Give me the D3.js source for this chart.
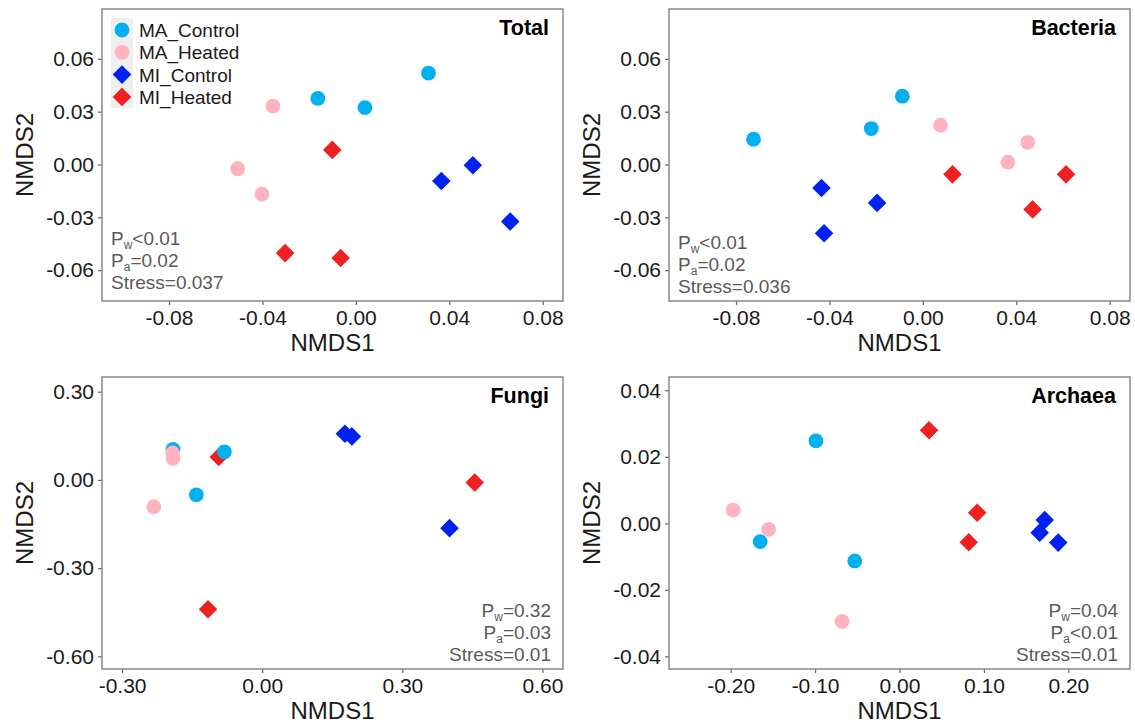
<!DOCTYPE html>
<html>
<head>
<meta charset="utf-8">
<script src="https://cdnjs.cloudflare.com/ajax/libs/d3/7.8.5/d3.min.js"></script>
<style>
  body { margin: 0; background: #fff; }
  text { font-family: "Liberation Sans", Arial, sans-serif; }
</style>
</head>
<body>
<div id="container"></div>
<script>
// groups, in legend order
var groups = ["MA_Control", "MA_Heated", "MI_Control", "MI_Heated"];
var groupColors = ["#00B0F0", "#FFB3C1", "#0022F0", "#EE2020"];
var groupShapes = ["circle", "circle", "diamond", "diamond"];

// group of each sample (same order in every panel)
var sampleGroup = ["MA_Control", "MA_Control", "MA_Control",
                   "MA_Heated", "MA_Heated", "MA_Heated",
                   "MI_Control", "MI_Control", "MI_Control",
                   "MI_Heated", "MI_Heated", "MI_Heated"];

// Total
var totalNMDS1 = [-0.0163, 0.0039, 0.0311, -0.0355, -0.0506, -0.0402, 0.0366, 0.0501, 0.0661, -0.0101, -0.0303, -0.0065];
var totalNMDS2 = [0.0375, 0.0323, 0.0519, 0.0332, -0.0024, -0.0169, -0.0094, -0.0004, -0.0324, 0.0083, -0.0503, -0.0531];
// Bacteria
var bactNMDS1 = [-0.0725, -0.0221, -0.0088, 0.0076, 0.0364, 0.0449, -0.0434, -0.0196, -0.0423, 0.0127, 0.0613, 0.0470];
var bactNMDS2 = [0.0144, 0.0204, 0.0388, 0.0223, 0.0013, 0.0126, -0.0133, -0.0218, -0.0390, -0.0056, -0.0056, -0.0255];
// Fungi
var fungiNMDS1 = [-0.191, -0.081, -0.141, -0.192, -0.191, -0.232, 0.177, 0.192, 0.401, -0.093, 0.455, -0.116];
var fungiNMDS2 = [0.1035, 0.0956, -0.0506, 0.092, 0.073, -0.091, 0.157, 0.148, -0.164, 0.078, -0.009, -0.440];
// Archaea
var archNMDS1 = [-0.099, -0.165, -0.053, -0.197, -0.155, -0.068, 0.172, 0.166, 0.188, 0.035, 0.092, 0.082];
var archNMDS2 = [0.0248, -0.0055, -0.0113, 0.0040, -0.0018, -0.0295, 0.0010, -0.0028, -0.0058, 0.0280, 0.0032, -0.0057];

// tick values
var bigTicksX = [-0.08, -0.04, 0, 0.04, 0.08];
var bigTicksY = [-0.06, -0.03, 0, 0.03, 0.06];
var fungiTicksX = [-0.3, 0, 0.3, 0.6];
var fungiTicksY = [-0.6, -0.3, 0, 0.3];
var archTicksX = [-0.2, -0.1, 0, 0.1, 0.2];
var archTicksY = [-0.04, -0.02, 0, 0.02, 0.04];

// stats text: [letter, subscript, rest]
var totalStats = [["P", "w", "<0.01"], ["P", "a", "=0.02"], ["", "", "Stress=0.037"]];
var bactStats  = [["P", "w", "<0.01"], ["P", "a", "=0.02"], ["", "", "Stress=0.036"]];
var fungiStats = [["P", "w", "=0.32"], ["P", "a", "=0.03"], ["", "", "Stress=0.01"]];
var archStats  = [["P", "w", "=0.04"], ["P", "a", "<0.01"], ["", "", "Stress=0.01"]];

var panels = [
  {title: "Total", xs: totalNMDS1, ys: totalNMDS2, xd: [-0.1087, 0.0887], yd: [-0.0775, 0.0883],
   xt: bigTicksX, yt: bigTicksY, stats: totalStats, left: 102, top: 9, statsRight: false, statsY: 245, legend: true},
  {title: "Bacteria", xs: bactNMDS1, ys: bactNMDS2, xd: [-0.1087, 0.0887], yd: [-0.0775, 0.0883],
   xt: bigTicksX, yt: bigTicksY, stats: bactStats, left: 669, top: 9, statsRight: false, statsY: 249},
  {title: "Fungi", xs: fungiNMDS1, ys: fungiNMDS2, xd: [-0.343, 0.644], yd: [-0.643, 0.35],
   xt: fungiTicksX, yt: fungiTicksY, stats: fungiStats, left: 102, top: 377, statsRight: true, statsY: 617},
  {title: "Archaea", xs: archNMDS1, ys: archNMDS2, xd: [-0.273, 0.273], yd: [-0.0438, 0.044],
   xt: archTicksX, yt: archTicksY, stats: archStats, left: 669, top: 377, statsRight: true, statsY: 617}
];

var W = 1135, H = 724;
var pw = 461, ph = 292;
var fmt = function(d) { return d.toFixed(2); };

var svg = d3.select("#container").append("svg")
  .attr("width", W).attr("height", H);

function diamond(r) {
  return "M0," + (-r) + "L" + r + ",0L0," + r + "L" + (-r) + ",0Z";
}

function drawMark(sel, shape, color) {
  if (shape === "circle") {
    sel.append("circle").attr("r", 7.4).attr("fill", color);
  } else {
    sel.append("path").attr("d", diamond(9.3)).attr("fill", color);
  }
}

// draw order: MI first, then MA on top
var drawOrder = [2, 3, 0, 1];

panels.forEach(function(p) {
  var g = svg.append("g").attr("transform", "translate(" + p.left + "," + p.top + ")");
  var x = d3.scaleLinear().domain(p.xd).range([0, pw]);
  var y = d3.scaleLinear().domain(p.yd).range([ph, 0]);

  var xAxis = g.append("g").attr("transform", "translate(0," + ph + ")")
    .call(d3.axisBottom(x).tickValues(p.xt).tickFormat(fmt).tickSize(4).tickPadding(5));
  var yAxis = g.append("g")
    .call(d3.axisLeft(y).tickValues(p.yt).tickFormat(fmt).tickSize(4).tickPadding(4));
  [xAxis, yAxis].forEach(function(a) {
    a.select(".domain").remove();
    a.selectAll("line").attr("stroke", "#666").attr("stroke-width", 1.2);
    a.selectAll("text").attr("fill", "#1a1a1a").style("font-size", "21px")
      .style("font-family", "'Liberation Sans', Arial, sans-serif");
  });

  g.append("rect").attr("width", pw).attr("height", ph)
    .attr("fill", "none").attr("stroke", "#808080").attr("stroke-width", 1.4);

  // axis titles
  g.append("text").attr("x", pw / 2).attr("y", ph + 50)
    .attr("text-anchor", "middle").style("font-size", "24px").attr("fill", "#1a1a1a")
    .text("NMDS1");
  g.append("text").attr("transform", "translate(-69," + (ph / 2) + ") rotate(-90)")
    .attr("text-anchor", "middle").style("font-size", "24px").attr("fill", "#1a1a1a")
    .text("NMDS2");

  // panel title
  g.append("text").attr("x", pw - 14).attr("y", 26)
    .attr("text-anchor", "end").style("font-size", "21.5px").style("font-weight", "bold")
    .attr("fill", "#000").text(p.title);

  // points
  var idx = d3.range(p.xs.length).sort(function(a, b) {
    return drawOrder.indexOf(groups.indexOf(sampleGroup[a])) - drawOrder.indexOf(groups.indexOf(sampleGroup[b])) || a - b;
  });
  idx.forEach(function(i) {
    var gi = groups.indexOf(sampleGroup[i]);
    var m = g.append("g").attr("transform", "translate(" + x(p.xs[i]) + "," + y(p.ys[i]) + ")");
    drawMark(m, groupShapes[gi], groupColors[gi]);
  });

  // stats
  var sx = p.statsRight ? pw - 12 : 9;
  var st = g.append("g");
  p.stats.forEach(function(s, k) {
    var t = st.append("text").attr("x", sx).attr("y", p.statsY - p.top + k * 22)
      .attr("text-anchor", p.statsRight ? "end" : "start")
      .style("font-size", "19px").attr("fill", "#595959");
    if (s[0]) {
      t.append("tspan").text(s[0]);
      t.append("tspan").attr("dy", 4).style("font-size", "12px").text(s[1]);
      t.append("tspan").attr("dy", -4).text(s[2]);
    } else {
      t.append("tspan").text(s[2]);
    }
  });

  // legend
  if (p.legend) {
    var lg = g.append("g").attr("transform", "translate(9,9)");
    lg.append("rect").attr("x", 0).attr("y", 0).attr("width", 22).attr("height", 90)
      .attr("fill", "#efefef");
    groups.forEach(function(name, k) {
      var row = lg.append("g").attr("transform", "translate(11," + (12 + k * 22.3) + ")");
      drawMark(row, groupShapes[k], groupColors[k]);
      row.append("text").attr("x", 17).attr("y", 7)
        .style("font-size", "19px").attr("fill", "#1a1a1a").text(name);
    });
  }
});
</script>
</body>
</html>
